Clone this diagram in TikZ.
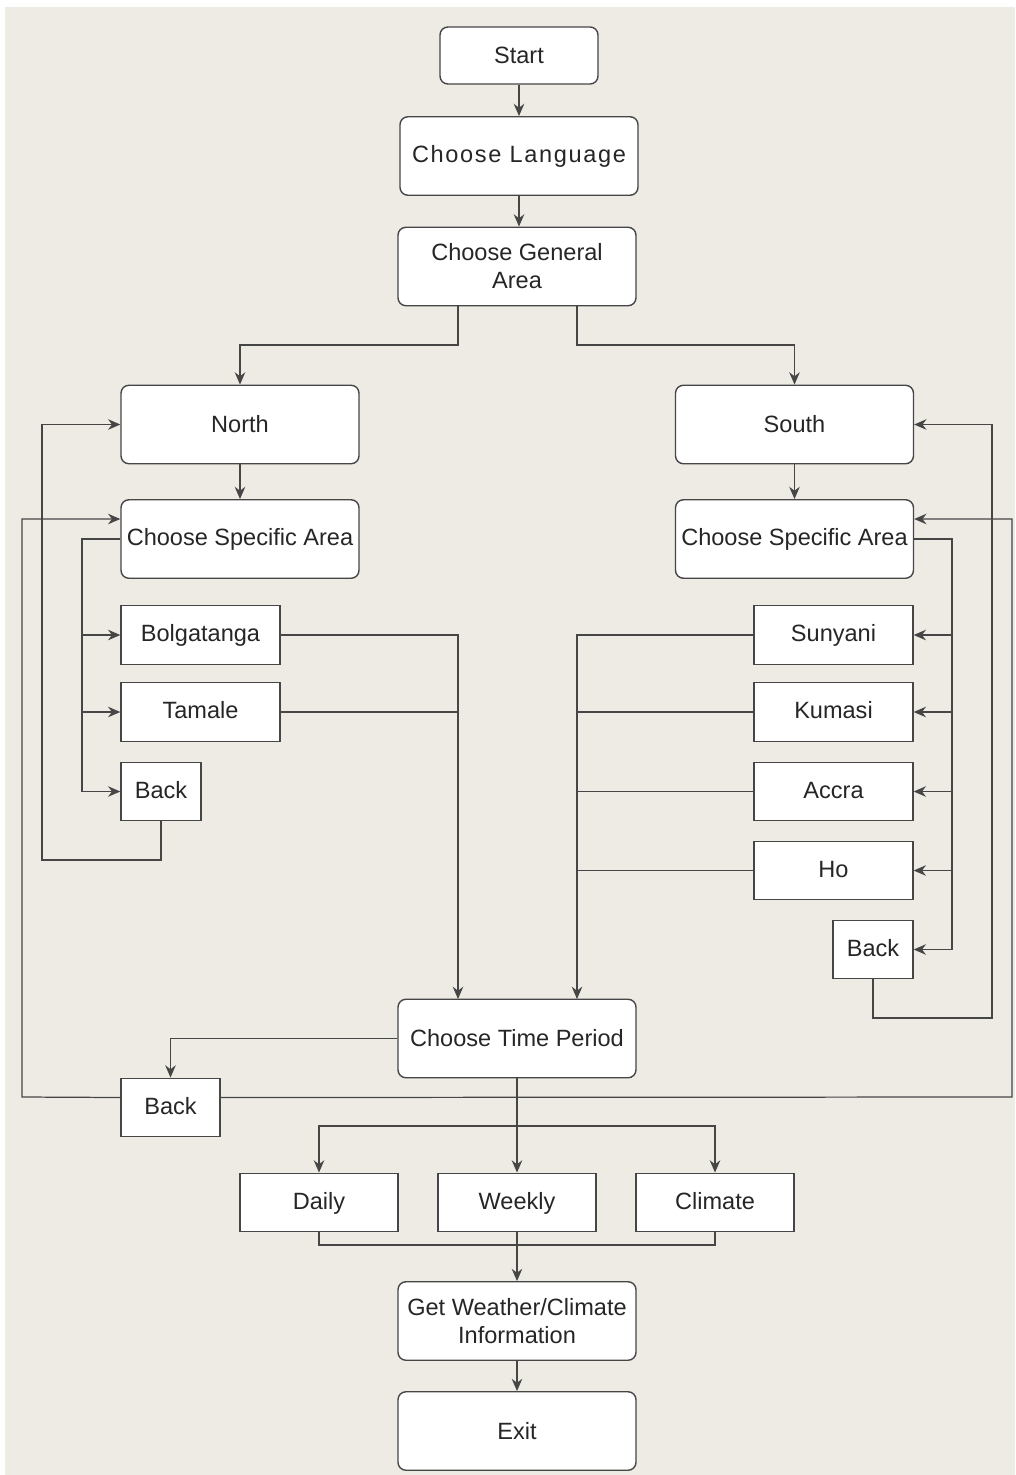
\documentclass[tikz,border=0pt]{standalone}
\usepackage{fontspec}
\setmainfont{Liberation Sans}
\usetikzlibrary{arrows.meta}

\definecolor{paper}{RGB}{238,235,228}
\definecolor{ink}{RGB}{70,70,70}

\begin{document}
\begin{tikzpicture}[x=0.02cm, y=-0.02cm,
    every node/.style={font=\fontsize{13.4}{16}\selectfont, align=center, text=black!85},
    rbox/.style={draw=ink, line width=0.8pt, fill=white, rounded corners=4.5pt, minimum width=4.76cm, minimum height=1.57cm, inner sep=1pt},
    sbox/.style={draw=ink, line width=0.8pt, fill=white, minimum height=1.17cm, inner sep=1pt, text height=1.5ex, text depth=0.1ex},
    flow/.style={draw=ink, line width=0.7pt, -{Stealth[length=7pt, width=6pt]}},
    wire/.style={draw=ink, line width=0.7pt}]

    % paper
    \fill[white] (0,0) rectangle (1015,1475);
    \fill[paper] (5,7) rectangle (1015,1475);

    % top of the flow
    \node[rbox, minimum width=3.16cm, minimum height=1.14cm] (start) at (519,55.5) {Start};
    \node[rbox] (lang) at (519,156) {\addfontfeature{LetterSpace=7}Choose Language};
    \node[rbox] (gen) at (517,266.5) {Choose General\\Area};

    % north branch
    \node[rbox] (north) at (240,424.5) {North};
    \node[rbox] (ncsa) at (240,539) {Choose Specific Area};
    \node[sbox, minimum width=3.18cm] (bolg) at (200.5,635) {Bolgatanga};
    \node[sbox, minimum width=3.18cm] (tam) at (200.5,712) {Tamale};
    \node[sbox, minimum width=1.6cm] (nback) at (161,791.5) {Back};

    % south branch
    \node[rbox] (south) at (794.5,424.5) {South};
    \node[rbox] (scsa) at (794.5,539) {Choose Specific Area};
    \foreach \n/\t/\y in {sun/Sunyani/635, kum/Kumasi/712, acc/Accra/791.5, ho/Ho/870.5}{
        \node[sbox, minimum width=3.18cm] (\n) at (833.5,\y) {\t};
    }
    \node[sbox, minimum width=1.6cm] (sback) at (873,949.5) {Back};

    % time period and results
    \node[rbox] (time) at (517,1038.5) {Choose Time Period};
    \node[sbox, minimum width=1.98cm] (tback) at (170.5,1107.5) {Back};
    \foreach \n/\t/\x in {daily/Daily/319, weekly/Weekly/517, climate/Climate/715}{
        \node[sbox, minimum width=3.16cm] (\n) at (\x,1202.5) {\t};
    }
    \node[rbox] (info) at (517,1321) {Get Weather/Climate\\Information};
    \node[rbox] (exit) at (517,1431) {Exit};

    \coordinate (gl) at (458,345);
    \coordinate (gr) at (577,345);
    \coordinate (nbus) at (82,539);
    \coordinate (sbus) at (952,539);
    \coordinate (nloop) at (42,860);
    \coordinate (sloop) at (992,1018);
    \coordinate (outl) at (22,1097);
    \coordinate (outr) at (1012,1097);
    \coordinate (nin) at (458,999);
    \coordinate (sin) at (577,999);
    \coordinate (split) at (517,1126);
    \coordinate (merge) at (517,1245);

    \draw[flow] (start) -- (lang);
    \draw[flow] (lang) -- (lang |- gen.north);
    \draw[flow] (gen.south -| gl) -- (gl) -| (north.north);
    \draw[flow] (gen.south -| gr) -- (gr) -| (south.north);
    \draw[flow] (north) -- (ncsa);
    \draw[flow] (south) -- (scsa);

    % north choices
    \draw[wire] (ncsa.west) -- (nbus) -- (nbus |- nback);
    \foreach \n in {bolg, tam, nback}{
        \draw[flow] (nbus |- \n) -- (\n.west);
    }
    \draw[flow] (nback.south) |- (nloop) |- (north.west);

    % south choices
    \draw[wire] (scsa.east) -- (sbus) -- (sbus |- sback);
    \foreach \n in {sun, kum, acc, ho, sback}{
        \draw[flow] (sbus |- \n) -- (\n.east);
    }
    \draw[flow] (sback.south) |- (sloop) |- (south.east);

    % into time period
    \draw[flow] (bolg.east) -| (nin);
    \draw[wire] (tam.east) -- (tam.east -| nin);
    \draw[flow] (sun.west) -| (sin);
    \foreach \n in {kum, acc, ho}{
        \draw[wire] (\n.west) -- (\n.west -| sin);
    }

    % back from time period
    \draw[flow] (time.west) -| (tback.north);
    \draw[flow] ([yshift=0.2cm]tback.west) -- (outl) |- ([yshift=0.4cm]ncsa.west);
    \draw[flow] ([yshift=0.2cm]tback.east) -- (outr) |- ([yshift=0.4cm]scsa.east);

    % periods
    \draw[wire] (time.south) -- (split);
    \draw[flow] (split) -- (weekly);
    \draw[flow] (split) -| (daily.north);
    \draw[flow] (split) -| (climate.north);
    \draw[wire] (daily.south) |- (merge) -| (climate.south);
    \draw[flow] (weekly.south) -- (info.north);
    \draw[flow] (info) -- (exit);
\end{tikzpicture}
\end{document}
